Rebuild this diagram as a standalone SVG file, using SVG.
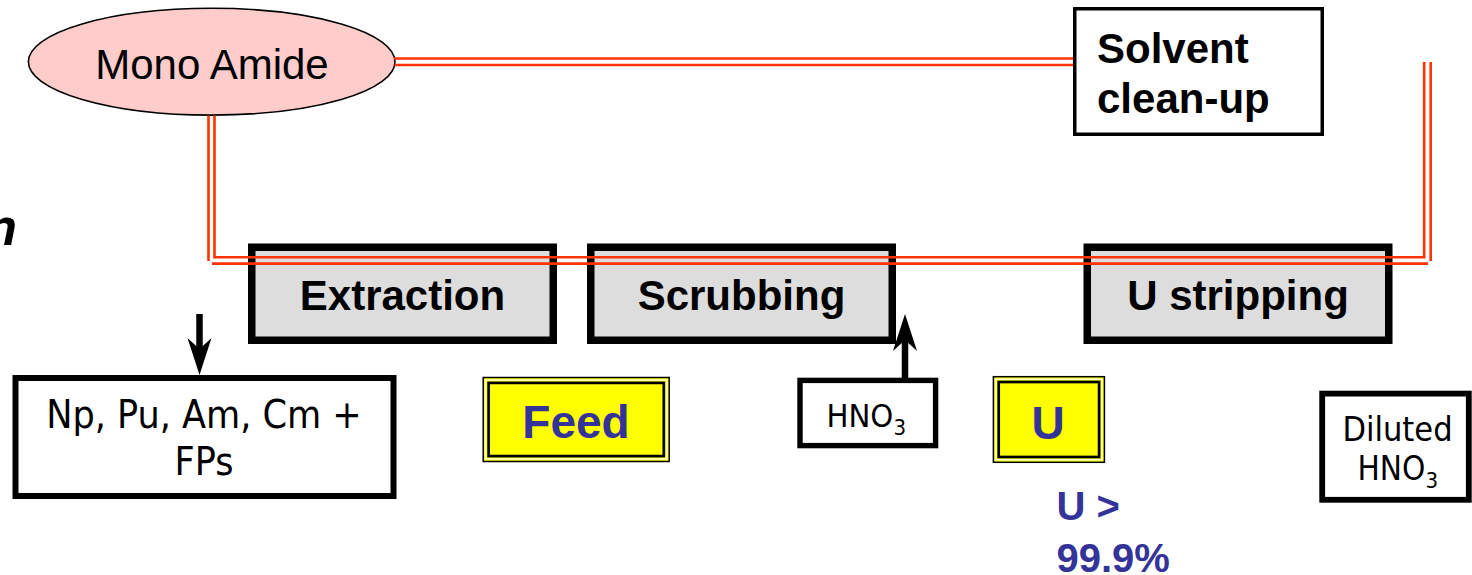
<svg xmlns="http://www.w3.org/2000/svg" width="1472" height="575" viewBox="0 0 1472 575">
<style>
.proc{fill:#dddddd;stroke:#000;stroke-width:7.5}
.box{fill:#fff;stroke:#000;stroke-width:6}
.ybox{fill:#ffff00;stroke:#000;stroke-width:1.5}
.yin{fill:none;stroke:#000;stroke-width:2.7}
.ywh{fill:none;stroke:#fff;stroke-width:1.2}
.red{fill:none;stroke:#ff3300;stroke-width:2.6}
.arr{stroke:#000;stroke-width:6.5;fill:none}
.bold{font-family:"Liberation Sans",Arial,sans-serif;font-weight:bold;fill:#000}
.reg{font-family:"Liberation Sans",Arial,sans-serif;fill:#000}
.cond{font-family:"DejaVu Sans Condensed","DejaVu Sans",sans-serif;fill:#000}
.blue{font-family:"Liberation Sans",Arial,sans-serif;font-weight:bold;fill:#333399}
</style>
<defs>
<marker id="ah" markerUnits="userSpaceOnUse" markerWidth="37" markerHeight="24" refX="11" refY="12" orient="auto" overflow="visible">
<path d="M0,0 L37,12 L0,24 L11,12 Z" fill="#000"/>
</marker>
</defs>
<rect width="1472" height="575" fill="#fff"/>
<text class="bold" x="17" y="245" font-size="52" font-style="italic" text-anchor="end">n</text>

<g id="mono-amide">
<ellipse cx="211.7" cy="61.7" rx="183.3" ry="53.4" fill="#ffcccc" stroke="#000" stroke-width="1.6"/>
<text class="reg" x="212" y="79" font-size="42" text-anchor="middle">Mono Amide</text>
</g>

<g id="solvent-cleanup">
<rect x="1074.75" y="8.75" width="247.5" height="125.5" fill="#fff" stroke="#000" stroke-width="3.5"/>
<text class="bold" x="1097" y="62.7" font-size="42">Solvent</text>
<text class="bold" x="1097" y="113.3" font-size="42">clean-up</text>
</g>

<g id="extraction">
<rect class="proc" x="251.75" y="247.25" width="301.5" height="93"/>
<text class="bold" x="402.5" y="310" font-size="42" text-anchor="middle">Extraction</text>
</g>

<g id="scrubbing">
<rect class="proc" x="590.75" y="247.25" width="301.5" height="93"/>
<text class="bold" x="741.5" y="310" font-size="42" text-anchor="middle">Scrubbing</text>
</g>

<g id="u-stripping">
<rect class="proc" x="1087.25" y="247.25" width="301.5" height="93"/>
<text class="bold" x="1238" y="310" font-size="42" text-anchor="middle">U stripping</text>
</g>

<g id="np-pu-am-cm">
<rect class="box" x="15.5" y="378" width="378" height="118"/>
<text class="cond" x="204" y="428" font-size="39" text-anchor="middle">Np, Pu, Am, Cm +</text>
<text class="cond" x="204" y="475" font-size="39" text-anchor="middle">FPs</text>
</g>

<g id="feed">
<rect class="ybox" x="483.2" y="377.5" width="186" height="84"/>
<rect class="ywh" x="485.7" y="380" width="181" height="79"/>
<rect class="yin" x="488.6" y="382.9" width="175.2" height="73.2"/>
<text class="blue" x="576" y="438" font-size="46" text-anchor="middle">Feed</text>
</g>

<g id="hno3">
<rect x="800" y="380.4" width="135.6" height="65.2" fill="#fff" stroke="#000" stroke-width="5.4"/>
<text class="cond" x="826.5" y="426.7" font-size="32.5">HNO<tspan font-size="22" dy="8">3</tspan></text>
</g>

<g id="u-product">
<rect class="ybox" x="993.4" y="376.7" width="111" height="85.6"/>
<rect class="ywh" x="995.9" y="379.2" width="106" height="80.6"/>
<rect class="yin" x="998.7" y="382" width="100.4" height="75"/>
<text class="blue" x="1048" y="439" font-size="46" text-anchor="middle">U</text>
</g>

<g id="u-yield">
<text class="blue" x="1056.5" y="520" font-size="40">U &gt;</text>
<text class="blue" x="1056.5" y="571.5" font-size="40">99.9%</text>
</g>

<g id="diluted-hno3">
<rect x="1322.2" y="393.6" width="146.6" height="106.2" fill="#fff" stroke="#000" stroke-width="5.8"/>
<text class="cond" x="1397.5" y="441" font-size="34" text-anchor="middle">Diluted</text>
<text class="cond" x="1357.5" y="480" font-size="33">HNO<tspan font-size="22" dy="8">3</tspan></text>
</g>

<g id="connectors">
<path class="red" d="M394,58.5 H1073"/>
<path class="red" d="M394.5,65 H1073"/>
<path class="red" d="M208.5,115.5 V261"/>
<path class="red" d="M214.5,115.5 V257.3 H1424.2 V62"/>
<path class="red" d="M212,263.6 H1428"/>
<path class="red" d="M1430.7,62 V261"/>
<line class="arr" x1="199.5" y1="314" x2="199.5" y2="349" marker-end="url(#ah)"/>
<line class="arr" x1="905" y1="378" x2="905" y2="340" marker-end="url(#ah)"/>
</g>
</svg>
